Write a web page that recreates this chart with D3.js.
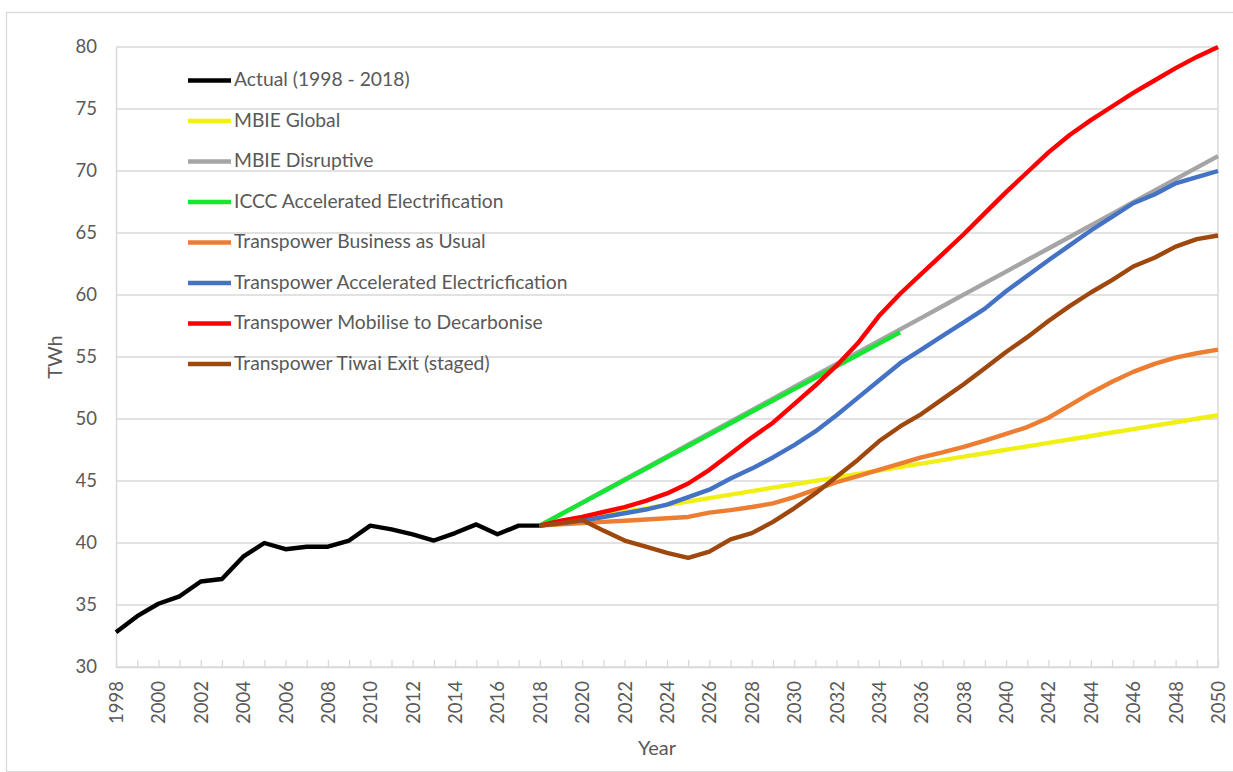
<!DOCTYPE html>
<html>
<head>
<meta charset="utf-8">
<script src="https://cdn.jsdelivr.net/npm/d3@7"></script>
<style>
  html, body { margin: 0; padding: 0; background: #fff; }
  svg { display: block; font-family: Lato, "Liberation Sans", sans-serif; }
</style>
</head>
<body>
<svg id="chart" width="1233" height="772"></svg>
<script>
// ---- data ----
const years = d3.range(1998, 2051);
const actualYears = d3.range(1998, 2019);
const forecastYears = d3.range(2018, 2051);
const icccYears = d3.range(2018, 2036);

const actual = [32.8, 34.1, 35.1, 35.7, 36.9, 37.1, 38.9, 40.0, 39.5, 39.7, 39.7, 40.2, 41.4, 41.1, 40.7, 40.2, 40.8, 41.5, 40.7, 41.4, 41.4];
const mbieGlobal = [41.40, 41.68, 41.96, 42.23, 42.51, 42.79, 43.07, 43.35, 43.62, 43.90, 44.18, 44.46, 44.74, 45.01, 45.29, 45.57, 45.85, 46.13, 46.40, 46.68, 46.96, 47.24, 47.52, 47.79, 48.07, 48.35, 48.63, 48.91, 49.18, 49.46, 49.74, 50.02, 50.30];
const mbieDisruptive = [41.40, 42.33, 43.26, 44.19, 45.13, 46.06, 46.99, 47.92, 48.85, 49.78, 50.71, 51.64, 52.58, 53.51, 54.44, 55.37, 56.30, 57.23, 58.16, 59.09, 60.03, 60.96, 61.89, 62.82, 63.75, 64.68, 65.61, 66.54, 67.48, 68.41, 69.34, 70.27, 71.20];
const icccAccel = [41.40, 42.32, 43.24, 44.15, 45.07, 45.99, 46.91, 47.82, 48.74, 49.66, 50.58, 51.49, 52.41, 53.33, 54.25, 55.16, 56.08, 57.00];
const tpBau = [41.4, 41.5, 41.6, 41.7, 41.8, 41.9, 42.0, 42.1, 42.45, 42.65, 42.9, 43.2, 43.7, 44.3, 44.9, 45.4, 45.9, 46.4, 46.9, 47.3, 47.75, 48.25, 48.8, 49.35, 50.1, 51.1, 52.1, 53.0, 53.8, 54.45, 54.95, 55.3, 55.6];
const tpAccel = [41.4, 41.6, 41.8, 42.1, 42.4, 42.7, 43.1, 43.7, 44.3, 45.2, 46.0, 46.9, 47.9, 49.0, 50.3, 51.7, 53.1, 54.5, 55.6, 56.7, 57.8, 58.9, 60.3, 61.55, 62.8, 64.0, 65.2, 66.3, 67.4, 68.1, 69.0, 69.5, 70.0];
const tpMobilise = [41.4, 41.8, 42.1, 42.5, 42.9, 43.4, 44.0, 44.8, 45.9, 47.2, 48.5, 49.7, 51.2, 52.7, 54.3, 56.1, 58.3, 60.1, 61.7, 63.3, 64.9, 66.6, 68.3, 69.9, 71.5, 72.9, 74.1, 75.2, 76.3, 77.3, 78.3, 79.2, 80.0];
const tpTiwai = [41.4, 41.6, 41.85, 41.0, 40.2, 39.7, 39.2, 38.8, 39.3, 40.3, 40.8, 41.7, 42.8, 44.0, 45.35, 46.7, 48.2, 49.4, 50.4, 51.6, 52.8, 54.1, 55.4, 56.6, 57.9, 59.1, 60.2, 61.2, 62.3, 63.0, 63.9, 64.5, 64.8];

const seriesNames = ["Actual (1998 - 2018)", "MBIE Global", "MBIE Disruptive", "ICCC Accelerated Electrification",
  "Transpower Business as Usual", "Transpower Accelerated Electricfication", "Transpower Mobilise to Decarbonise", "Transpower Tiwai Exit (staged)"];
const seriesColors = ["#000000", "#f0f014", "#a5a5a5", "#14e632", "#ed7d31", "#4472c4", "#ff0000", "#9e480e"];
const seriesYears = [actualYears, forecastYears, forecastYears, icccYears, forecastYears, forecastYears, forecastYears, forecastYears];
const seriesValues = [actual, mbieGlobal, mbieDisruptive, icccAccel, tpBau, tpAccel, tpMobilise, tpTiwai];
const yTicks = [30, 35, 40, 45, 50, 55, 60, 65, 70, 75, 80];

// ---- layout ----
const W = 1233, H = 772;
const plot = { left: 116, right: 1218, top: 47, bottom: 667 };
const textColor = "#595959";
const gridColor = "#d9d9d9";

const svg = d3.select("#chart");

// outer chart border
svg.append("rect")
  .attr("x", 6.5).attr("y", 12.5)
  .attr("width", W + 20).attr("height", H - 13)
  .attr("fill", "none").attr("stroke", gridColor).attr("stroke-width", 1.3);

const x = d3.scalePoint().domain(years).range([plot.left, plot.right]).padding(0);
const y = d3.scaleLinear().domain([30, 80]).range([plot.bottom, plot.top]);

// gridlines
svg.append("g").selectAll("line").data(yTicks).join("line")
  .attr("x1", plot.left).attr("x2", plot.right)
  .attr("y1", d => y(d)).attr("y2", d => y(d))
  .attr("stroke", gridColor).attr("stroke-width", 1.5);

// right border of plot
svg.append("line")
  .attr("x1", plot.right).attr("x2", plot.right)
  .attr("y1", plot.top).attr("y2", plot.bottom)
  .attr("stroke", gridColor).attr("stroke-width", 1.5);

// y axis
const yAxis = svg.append("g").attr("transform", `translate(${plot.left},0)`)
  .call(d3.axisLeft(y).tickValues(yTicks).tickSize(0).tickPadding(19));
yAxis.select(".domain").attr("stroke", gridColor).attr("stroke-width", 1.5);
yAxis.selectAll("text").attr("fill", textColor).style("font-size", "18.5px").style("font-family", "Lato, sans-serif");

// x axis
const xAxis = svg.append("g").attr("transform", `translate(0,${plot.bottom})`)
  .call(d3.axisBottom(x).tickValues(years).tickSize(-7).tickSizeOuter(0)
    .tickFormat(d => ((d - 1998) % 2 === 0 ? String(d) : "")));
xAxis.select(".domain").attr("stroke", gridColor).attr("stroke-width", 1.5);
xAxis.selectAll(".tick line").attr("stroke", gridColor).attr("stroke-width", 1.3);
xAxis.selectAll("text")
  .attr("fill", textColor).style("font-size", "18.5px").style("font-family", "Lato, sans-serif")
  .attr("transform", "rotate(-90)")
  .attr("text-anchor", "end")
  .attr("x", -14).attr("y", 0).attr("dy", "0.35em");

// axis titles
svg.append("text")
  .attr("transform", `translate(57,${(plot.top + plot.bottom) / 2}) rotate(-90)`)
  .attr("text-anchor", "middle").attr("dominant-baseline", "middle")
  .attr("fill", textColor).style("font-size", "20px").text("TWh");
svg.append("text")
  .attr("x", 657).attr("y", 750)
  .attr("text-anchor", "middle").attr("dominant-baseline", "middle")
  .attr("fill", textColor).style("font-size", "20px").text("Year");

// lines
const line = d3.line().x(d => x(d[0])).y(d => y(d[1]));
const lines = svg.append("g").attr("fill", "none").attr("stroke-linejoin", "round").attr("stroke-linecap", "butt");
seriesValues.forEach((vals, i) => {
  const pts = seriesYears[i].map((yr, j) => [yr, vals[j]]);
  lines.append("path").datum(pts)
    .attr("d", line)
    .attr("stroke", seriesColors[i])
    .attr("stroke-width", 4.4);
});

// legend
const legend = svg.append("g");
seriesNames.forEach((name, i) => {
  const ly = 80.5 + i * 40.5;
  legend.append("line")
    .attr("x1", 188).attr("x2", 231).attr("y1", ly).attr("y2", ly)
    .attr("stroke", seriesColors[i]).attr("stroke-width", 4.4);
  legend.append("text")
    .attr("x", 234).attr("y", ly + 1).attr("dominant-baseline", "middle")
    .attr("fill", textColor).style("font-size", "19.3px").text(name);
});
</script>
</body>
</html>
